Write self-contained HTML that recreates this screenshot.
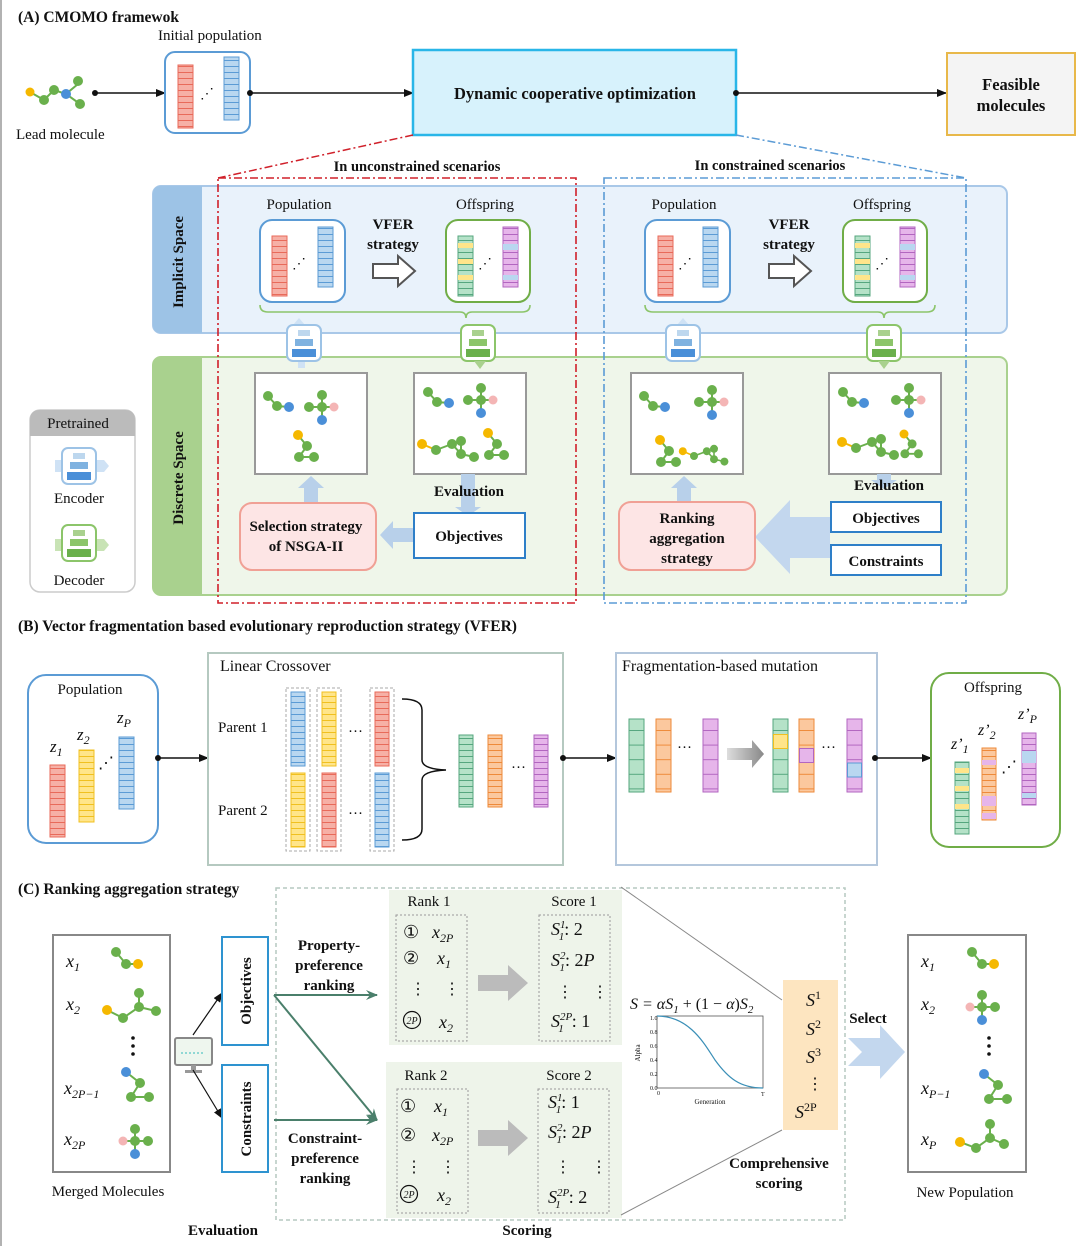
<!DOCTYPE html>
<html><head><meta charset="utf-8"><style>
html,body{margin:0;padding:0;background:#fff}
svg{display:block}
text{font-family:"Liberation Serif",serif;fill:#111}
.b{font-weight:bold}
.i{font-style:italic}
</style></head><body>
<svg width="1080" height="1246" viewBox="0 0 1080 1246" xmlns="http://www.w3.org/2000/svg">
<defs>
<marker id="ah" markerWidth="10" markerHeight="8" refX="9" refY="4" orient="auto" markerUnits="userSpaceOnUse"><path d="M0,0 L10,4 L0,8 Z" fill="#111"/></marker>
<marker id="ahg" markerWidth="12" markerHeight="10" refX="11" refY="5" orient="auto" markerUnits="userSpaceOnUse"><path d="M0,0 L12,5 L0,10 L4,5 Z" fill="#4a7f6b"/></marker>
<pattern id="pR" width="20" height="6" patternUnits="userSpaceOnUse"><rect width="20" height="6" fill="#f6b0a6"/><line x1="0" y1="0.5" x2="20" y2="0.5" stroke="#e86a5a"/></pattern>
<pattern id="pB" width="20" height="6" patternUnits="userSpaceOnUse"><rect width="20" height="6" fill="#b9d7f0"/><line x1="0" y1="0.5" x2="20" y2="0.5" stroke="#5b9bd5"/></pattern>
<pattern id="pY" width="20" height="6" patternUnits="userSpaceOnUse"><rect width="20" height="6" fill="#ffe58a"/><line x1="0" y1="0.5" x2="20" y2="0.5" stroke="#f0c020"/></pattern>
<pattern id="pG" width="20" height="6" patternUnits="userSpaceOnUse"><rect width="20" height="6" fill="#b5e2c8"/><line x1="0" y1="0.5" x2="20" y2="0.5" stroke="#55a67e"/></pattern>
<pattern id="pO" width="20" height="6" patternUnits="userSpaceOnUse"><rect width="20" height="6" fill="#fbc89e"/><line x1="0" y1="0.5" x2="20" y2="0.5" stroke="#ee8a3a"/></pattern>
<pattern id="pP" width="20" height="6" patternUnits="userSpaceOnUse"><rect width="20" height="6" fill="#e6b5ea"/><line x1="0" y1="0.5" x2="20" y2="0.5" stroke="#b266c0"/></pattern>
<pattern id="qG" width="20" height="14.6" patternUnits="userSpaceOnUse"><rect width="20" height="15" fill="#b5e2c8"/><line x1="0" y1="0.5" x2="20" y2="0.5" stroke="#55a67e"/></pattern>
<pattern id="qO" width="20" height="14.6" patternUnits="userSpaceOnUse"><rect width="20" height="15" fill="#fbc89e"/><line x1="0" y1="0.5" x2="20" y2="0.5" stroke="#ee8a3a"/></pattern>
<pattern id="qP" width="20" height="14.6" patternUnits="userSpaceOnUse"><rect width="20" height="15" fill="#e6b5ea"/><line x1="0" y1="0.5" x2="20" y2="0.5" stroke="#b266c0"/></pattern>
<g id="m1"><path d="M0,0 L9,10 L21,11" stroke="#6ab04c" stroke-width="2" fill="none"/><circle cx="0" cy="0" r="5" fill="#6ab04c"/><circle cx="9" cy="10" r="5" fill="#6ab04c"/><circle cx="21" cy="11" r="5" fill="#4a8fd8"/></g>
<g id="m2"><path d="M-13,0 L11,0 M0,-12 L0,13" stroke="#6ab04c" stroke-width="2"/><circle cx="-13" cy="0" r="5" fill="#6ab04c"/><circle cx="0" cy="0" r="5" fill="#6ab04c"/><circle cx="0" cy="-12" r="5" fill="#6ab04c"/><circle cx="12" cy="0" r="4.5" fill="#f4b5b5"/><circle cx="0" cy="13" r="5" fill="#4a8fd8"/></g>
<g id="m3"><path d="M0,0 L9,11 L1,22 L16,22" stroke="#6ab04c" stroke-width="2" fill="none"/><circle cx="0" cy="0" r="5" fill="#f5b800"/><circle cx="9" cy="11" r="5" fill="#6ab04c"/><circle cx="1" cy="22" r="5" fill="#6ab04c"/><circle cx="16" cy="22" r="5" fill="#6ab04c"/></g>
<g id="m4"><path d="M0,0 L16,-6 L25,4 L38,7 M25,4 L25,-9" stroke="#6ab04c" stroke-width="2" fill="none"/><circle cx="-14" cy="-6" r="5" fill="#f5b800"/><path d="M-14,-6 L0,0" stroke="#f5b800" stroke-width="2"/><circle cx="0" cy="0" r="5" fill="#6ab04c"/><circle cx="16" cy="-6" r="5" fill="#6ab04c"/><circle cx="25" cy="4" r="5" fill="#6ab04c"/><circle cx="38" cy="7" r="5" fill="#6ab04c"/><circle cx="25" cy="-9" r="5" fill="#6ab04c"/></g>
<g id="enc"><rect x="0" y="0" width="34" height="36" rx="6" fill="#fff" stroke="#9dc3e6" stroke-width="2"/><rect x="11" y="5" width="12" height="6" fill="#bdd7ee"/><rect x="8" y="14" width="18" height="7" fill="#7fb2e0"/><rect x="5" y="24" width="24" height="8" fill="#4a8fd8"/></g>
<g id="dec"><rect x="0" y="0" width="34" height="36" rx="6" fill="#fff" stroke="#8cc56a" stroke-width="2"/><rect x="11" y="5" width="12" height="6" fill="#a9d18e"/><rect x="8" y="14" width="18" height="7" fill="#8cc56a"/><rect x="5" y="24" width="24" height="8" fill="#6ab04c"/></g>
</defs>

<line x1="1" y1="0" x2="1" y2="1246" stroke="#999" stroke-width="1.5"/>

<!-- ===== A ===== -->
<text x="18" y="22" font-size="15.5" class="b">(A)  CMOMO framewok</text>
<text x="158" y="40" font-size="15">Initial population</text>
<g transform="translate(30,78)">
<path d="M0,14 L14,22 L24,12 L36,16 L48,6 L36,16 L50,26" stroke="#6ab04c" stroke-width="2" fill="none"/>
<circle cx="0" cy="14" r="4.5" fill="#f5b800"/><circle cx="14" cy="22" r="5" fill="#6ab04c"/><circle cx="24" cy="12" r="5" fill="#6ab04c"/><circle cx="36" cy="16" r="5" fill="#4a8fd8"/><circle cx="48" cy="3" r="5" fill="#6ab04c"/><circle cx="50" cy="26" r="5" fill="#6ab04c"/>
</g>
<text x="16" y="139" font-size="15">Lead molecule</text>
<circle cx="95" cy="93" r="3" fill="#111"/>
<line x1="95" y1="93" x2="165" y2="93" stroke="#111" stroke-width="1.6" marker-end="url(#ah)"/>
<rect x="165" y="52" width="85" height="81" rx="10" fill="#fff" stroke="#5b9bd5" stroke-width="2"/>
<rect x="178" y="65" width="15" height="63" fill="url(#pR)" stroke="#e86a5a"/>
<rect x="224" y="57" width="15" height="63" fill="url(#pB)" stroke="#5b9bd5"/>
<text x="200" y="98" font-size="14" fill="#4a8fd8">⋰</text>
<circle cx="250" cy="93" r="3" fill="#111"/>
<line x1="250" y1="93" x2="413" y2="93" stroke="#111" stroke-width="1.6" marker-end="url(#ah)"/>
<rect x="413" y="50" width="323" height="85" fill="#d7f2fc" stroke="#29b6e8" stroke-width="2.5"/>
<text x="575" y="99" font-size="16.5" class="b" text-anchor="middle">Dynamic cooperative optimization</text>
<circle cx="736" cy="93" r="3" fill="#111"/>
<line x1="736" y1="93" x2="946" y2="93" stroke="#111" stroke-width="1.6" marker-end="url(#ah)"/>
<rect x="947" y="53" width="128" height="82" fill="#f4f4f4" stroke="#e8b84a" stroke-width="2"/>
<text x="1011" y="90" font-size="16.5" class="b" text-anchor="middle">Feasible</text>
<text x="1011" y="111" font-size="16.5" class="b" text-anchor="middle">molecules</text>

<line x1="413" y1="135" x2="218" y2="178" stroke="#d0202a" stroke-width="1.5" stroke-dasharray="8,3,2,3"/>
<line x1="736" y1="135" x2="966" y2="178" stroke="#5b9bd5" stroke-width="1.5" stroke-dasharray="8,3,2,3"/>
<text x="417" y="171" font-size="14.5" class="b" text-anchor="middle">In unconstrained scenarios</text>
<text x="770" y="170" font-size="14.5" class="b" text-anchor="middle">In constrained scenarios</text>

<!-- panels -->
<rect x="153" y="186" width="854" height="147" rx="8" fill="#e9f2fb" stroke="#a9c8e8" stroke-width="2"/>
<path d="M161,186 H202 V333 H161 Q153,333 153,325 V194 Q153,186 161,186 Z" fill="#9dc3e6"/>
<text transform="translate(183,262) rotate(-90)" font-size="15" class="b" text-anchor="middle">Implicit  Space</text>
<rect x="153" y="357" width="854" height="238" rx="8" fill="#eff6ea" stroke="#a9d18e" stroke-width="2"/>
<path d="M161,357 H202 V595 H161 Q153,595 153,587 V365 Q153,357 161,357 Z" fill="#a9d18e"/>
<text transform="translate(183,478) rotate(-90)" font-size="15" class="b" text-anchor="middle">Discrete Space</text>

<!-- pretrained -->
<rect x="30" y="410" width="105" height="182" rx="10" fill="#fff" stroke="#ccc" stroke-width="1.5"/>
<path d="M40,410 H125 Q135,410 135,420 V436 H30 V420 Q30,410 40,410 Z" fill="#bbb"/>
<text x="78" y="428" font-size="15" text-anchor="middle">Pretrained</text>
<path d="M55,460 H104 L109,466 L104,472 H55 Z" fill="#cfe2f5"/>
<use href="#enc" transform="translate(62,448) scale(1)"/>
<text x="79" y="503" font-size="15" text-anchor="middle">Encoder</text>
<path d="M55,539 H104 L109,545 L104,551 H55 Z" fill="#c8e3b5"/>
<use href="#dec" transform="translate(62,525)"/>
<text x="79" y="585" font-size="15" text-anchor="middle">Decoder</text>

<!-- dashed scenario rects -->
<rect x="218" y="178" width="358" height="425" fill="none" stroke="#d0202a" stroke-width="1.6" stroke-dasharray="8,3,2,3"/>
<rect x="604" y="178" width="362" height="425" fill="none" stroke="#5b9bd5" stroke-width="1.6" stroke-dasharray="8,3,2,3"/>

<!-- Left implicit -->
<text x="299" y="209" font-size="15" text-anchor="middle">Population</text>
<rect x="260" y="220" width="85" height="82" rx="12" fill="#fff" stroke="#5b9bd5" stroke-width="2"/>
<rect x="272" y="236" width="15" height="60" fill="url(#pR)" stroke="#e86a5a"/>
<rect x="318" y="227" width="15" height="60" fill="url(#pB)" stroke="#5b9bd5"/>
<text x="292" y="268" font-size="14" fill="#4a8fd8">⋰</text>
<text x="393" y="229" font-size="15" class="b" text-anchor="middle">VFER</text>
<text x="393" y="249" font-size="15" class="b" text-anchor="middle">strategy</text>
<path d="M373,264 H398 V256 L415,271 L398,286 V278 H373 Z" fill="#fff" stroke="#555" stroke-width="2"/>
<text x="485" y="209" font-size="15" text-anchor="middle">Offspring</text>
<rect x="446" y="220" width="84" height="82" rx="12" fill="#fff" stroke="#70ad47" stroke-width="2"/>
<rect x="458" y="236" width="15" height="60" fill="url(#pG)" stroke="#55a67e"/>
<rect x="458" y="243" width="15" height="5" fill="#ffe58a"/><rect x="458" y="259" width="15" height="5" fill="#ffe58a"/><rect x="458" y="275" width="15" height="5" fill="#ffe58a"/>
<rect x="503" y="227" width="15" height="60" fill="url(#pP)" stroke="#b266c0"/>
<rect x="503" y="244" width="15" height="6" fill="#b9d7f0"/><rect x="503" y="275" width="15" height="5" fill="#b9d7f0"/>
<text x="478" y="268" font-size="14" fill="#6ab04c">⋰</text>
<path d="M260,305 Q260,312 268,312 H460 Q466,312 466,318 Q466,312 472,312 H522 Q530,312 530,305" fill="none" stroke="#8cc56a" stroke-width="1.6"/>
<path d="M299,318 L305,325 H293 Z" fill="#cfe2f5"/><rect x="298" y="360" width="7" height="8" fill="#cfe2f5"/>
<use href="#enc" transform="translate(287,325)"/>
<use href="#dec" transform="translate(461,325)"/>
<path d="M474,361 H486 L480,369 Z" fill="#a9d18e"/>
<rect x="255" y="373" width="112" height="101" fill="#fff" stroke="#999" stroke-width="2"/>
<use href="#m1" transform="translate(268,396)"/>
<use href="#m2" transform="translate(322,407)"/>
<use href="#m3" transform="translate(298,435)"/>
<rect x="414" y="373" width="112" height="101" fill="#fff" stroke="#999" stroke-width="2"/>
<use href="#m1" transform="translate(428,392)"/>
<use href="#m2" transform="translate(481,400)"/>
<use href="#m4" transform="translate(436,450)"/>
<use href="#m3" transform="translate(488,433)"/>
<path d="M461,474 H475 V507 H481 L468,516 L455,507 H461 Z" fill="#b8d0ea"/>
<text x="469" y="496" font-size="15" class="b" text-anchor="middle">Evaluation</text>
<rect x="414" y="513" width="111" height="45" fill="#fff" stroke="#2e7fc8" stroke-width="2"/>
<text x="469" y="541" font-size="15" class="b" text-anchor="middle">Objectives</text>
<path d="M413,528 H393 V521 L380,535 L393,549 V542 H413 Z" fill="#b8d0ea"/>
<path d="M304,503 V488 H298 L311,476 L324,488 H318 V503 Z" fill="#b8d0ea"/>
<rect x="240" y="503" width="136" height="67" rx="12" fill="#fde5e5" stroke="#f0a095" stroke-width="2"/>
<text x="306" y="531" font-size="15" class="b" text-anchor="middle">Selection strategy</text>
<text x="306" y="551" font-size="15" class="b" text-anchor="middle">of NSGA-II</text>

<!-- Right implicit -->
<text x="684" y="209" font-size="15" text-anchor="middle">Population</text>
<rect x="645" y="220" width="85" height="82" rx="12" fill="#fff" stroke="#5b9bd5" stroke-width="2"/>
<rect x="658" y="236" width="15" height="60" fill="url(#pR)" stroke="#e86a5a"/>
<rect x="703" y="227" width="15" height="60" fill="url(#pB)" stroke="#5b9bd5"/>
<text x="678" y="268" font-size="14" fill="#4a8fd8">⋰</text>
<text x="789" y="229" font-size="15" class="b" text-anchor="middle">VFER</text>
<text x="789" y="249" font-size="15" class="b" text-anchor="middle">strategy</text>
<path d="M769,264 H794 V256 L811,271 L794,286 V278 H769 Z" fill="#fff" stroke="#555" stroke-width="2"/>
<text x="882" y="209" font-size="15" text-anchor="middle">Offspring</text>
<rect x="843" y="220" width="84" height="82" rx="12" fill="#fff" stroke="#70ad47" stroke-width="2"/>
<rect x="855" y="236" width="15" height="60" fill="url(#pG)" stroke="#55a67e"/>
<rect x="855" y="243" width="15" height="5" fill="#ffe58a"/><rect x="855" y="259" width="15" height="5" fill="#ffe58a"/><rect x="855" y="275" width="15" height="5" fill="#ffe58a"/>
<rect x="900" y="227" width="15" height="60" fill="url(#pP)" stroke="#b266c0"/>
<rect x="900" y="244" width="15" height="6" fill="#b9d7f0"/><rect x="900" y="275" width="15" height="5" fill="#b9d7f0"/>
<text x="875" y="268" font-size="14" fill="#6ab04c">⋰</text>
<path d="M645,305 Q645,312 653,312 H878 Q884,312 884,318 Q884,312 890,312 H927 Q935,312 935,305" fill="none" stroke="#8cc56a" stroke-width="1.6"/>
<path d="M683,318 L689,325 H677 Z" fill="#cfe2f5"/>
<use href="#enc" transform="translate(666,325)"/>
<use href="#dec" transform="translate(867,325)"/>
<path d="M878,361 H890 L884,369 Z" fill="#a9d18e"/>
<rect x="631" y="373" width="112" height="101" fill="#fff" stroke="#999" stroke-width="2"/>
<use href="#m1" transform="translate(644,396)"/>
<use href="#m2" transform="translate(712,402)"/>
<use href="#m3" transform="translate(660,440)"/>
<use href="#m4" transform="translate(694,456) scale(0.8)"/>
<rect x="829" y="373" width="112" height="101" fill="#fff" stroke="#999" stroke-width="2"/>
<use href="#m1" transform="translate(843,392)"/>
<use href="#m2" transform="translate(909,400)"/>
<use href="#m4" transform="translate(856,448)"/>
<use href="#m3" transform="translate(904,434) scale(0.9)"/>
<path d="M877,474 H891 V480 H897 L884,489 L871,480 H877 Z" fill="#b8d0ea"/>
<text x="889" y="490" font-size="15" class="b" text-anchor="middle">Evaluation</text>
<rect x="831" y="502" width="110" height="30" fill="#fff" stroke="#2e7fc8" stroke-width="2"/>
<text x="886" y="523" font-size="15" class="b" text-anchor="middle">Objectives</text>
<rect x="831" y="545" width="110" height="30" fill="#fff" stroke="#2e7fc8" stroke-width="2"/>
<text x="886" y="566" font-size="15" class="b" text-anchor="middle">Constraints</text>
<path d="M830,517 V558 H790 V574 L755,537 L790,500 V517 Z" fill="#c3d7ee"/>
<path d="M677,503 V488 H671 L684,476 L697,488 H691 V503 Z" fill="#b8d0ea"/>
<rect x="619" y="502" width="136" height="68" rx="12" fill="#fde5e5" stroke="#f0a095" stroke-width="2"/>
<text x="687" y="523" font-size="15" class="b" text-anchor="middle">Ranking</text>
<text x="687" y="543" font-size="15" class="b" text-anchor="middle">aggregation</text>
<text x="687" y="563" font-size="15" class="b" text-anchor="middle">strategy</text>

<!-- ===== B ===== -->
<text x="18" y="631" font-size="15.5" class="b">(B)  Vector fragmentation based evolutionary reproduction strategy (VFER)</text>
<rect x="28" y="675" width="130" height="168" rx="18" fill="#fff" stroke="#5b9bd5" stroke-width="2"/>
<text x="90" y="694" font-size="15" text-anchor="middle">Population</text>
<text x="50" y="752" font-size="17" class="i">z<tspan font-size="12" dy="4">1</tspan></text>
<text x="77" y="740" font-size="17" class="i">z<tspan font-size="12" dy="4">2</tspan></text>
<text x="117" y="723" font-size="17" class="i">z<tspan font-size="12" dy="4">P</tspan></text>
<rect x="50" y="765" width="15" height="72" fill="url(#pR)" stroke="#e86a5a"/>
<rect x="79" y="750" width="15" height="72" fill="url(#pY)" stroke="#f0c020"/>
<rect x="119" y="737" width="15" height="72" fill="url(#pB)" stroke="#5b9bd5"/>
<text x="98" y="768" font-size="16">⋰</text>
<circle cx="158" cy="758" r="3" fill="#111"/>
<line x1="158" y1="758" x2="208" y2="758" stroke="#111" stroke-width="1.6" marker-end="url(#ah)"/>

<rect x="208" y="653" width="355" height="212" fill="#fff" stroke="#b5c9c0" stroke-width="2"/>
<text x="220" y="671" font-size="16">Linear Crossover</text>
<text x="218" y="732" font-size="15">Parent 1</text>
<text x="218" y="815" font-size="15">Parent 2</text>
<rect x="286" y="688" width="24" height="163" fill="none" stroke="#aaa" stroke-dasharray="3,2"/>
<rect x="317" y="688" width="24" height="163" fill="none" stroke="#aaa" stroke-dasharray="3,2"/>
<rect x="370" y="688" width="24" height="163" fill="none" stroke="#aaa" stroke-dasharray="3,2"/>
<rect x="291" y="692" width="14" height="74" fill="url(#pB)" stroke="#5b9bd5"/>
<rect x="322" y="692" width="14" height="74" fill="url(#pY)" stroke="#f0c020"/>
<rect x="375" y="692" width="14" height="74" fill="url(#pR)" stroke="#e86a5a"/>
<rect x="291" y="773" width="14" height="74" fill="url(#pY)" stroke="#f0c020"/>
<rect x="322" y="773" width="14" height="74" fill="url(#pR)" stroke="#e86a5a"/>
<rect x="375" y="773" width="14" height="74" fill="url(#pB)" stroke="#5b9bd5"/>
<text x="348" y="736" font-size="15">···</text>
<text x="348" y="818" font-size="15">···</text>
<path d="M402,699 Q422,699 422,710 V760 Q422,769 446,770 Q422,771 422,780 V829 Q422,840 402,840" fill="none" stroke="#111" stroke-width="1.5"/>
<rect x="459" y="735" width="14" height="72" fill="url(#pG)" stroke="#55a67e"/>
<rect x="488" y="735" width="14" height="72" fill="url(#pO)" stroke="#ee8a3a"/>
<rect x="534" y="735" width="14" height="72" fill="url(#pP)" stroke="#b266c0"/>
<text x="511" y="772" font-size="15">···</text>
<circle cx="563" cy="758" r="3" fill="#111"/>
<line x1="563" y1="758" x2="616" y2="758" stroke="#111" stroke-width="1.6" marker-end="url(#ah)"/>

<rect x="616" y="653" width="261" height="212" fill="#fff" stroke="#b4c7dc" stroke-width="2"/>
<text x="622" y="671" font-size="16">Fragmentation-based mutation</text>
<rect x="629" y="719" width="15" height="73" fill="url(#qG)" stroke="#55a67e"/>
<rect x="656" y="719" width="15" height="73" fill="url(#qO)" stroke="#ee8a3a"/>
<rect x="703" y="719" width="15" height="73" fill="url(#qP)" stroke="#b266c0"/>
<text x="677" y="752" font-size="15">···</text>
<defs><linearGradient id="gg" x1="0" x2="1"><stop offset="0" stop-color="#ddd"/><stop offset="1" stop-color="#888"/></linearGradient></defs>
<path d="M727,748 H752 V740 L764,754 L752,768 V760 H727 Z" fill="url(#gg)"/>
<rect x="773" y="719" width="15" height="73" fill="url(#qG)" stroke="#55a67e"/>
<rect x="773.5" y="734.5" width="14" height="14" fill="#ffe58a" stroke="#f0c020"/>
<rect x="799" y="719" width="15" height="73" fill="url(#qO)" stroke="#ee8a3a"/>
<rect x="799.5" y="748.5" width="14" height="14" fill="#e6b5ea" stroke="#b266c0"/>
<rect x="847" y="719" width="15" height="73" fill="url(#qP)" stroke="#b266c0"/>
<rect x="847.5" y="763" width="14" height="14" fill="#b9d7f0" stroke="#5b9bd5"/>
<text x="821" y="752" font-size="15">···</text>
<circle cx="875" cy="758" r="3" fill="#111"/>
<line x1="875" y1="758" x2="931" y2="758" stroke="#111" stroke-width="1.6" marker-end="url(#ah)"/>

<rect x="931" y="673" width="129" height="174" rx="18" fill="#fff" stroke="#70ad47" stroke-width="2"/>
<text x="993" y="692" font-size="15" text-anchor="middle">Offspring</text>
<text x="951" y="749" font-size="16" class="i">z’<tspan font-size="12" dy="4">1</tspan></text>
<text x="978" y="735" font-size="16" class="i">z’<tspan font-size="12" dy="4">2</tspan></text>
<text x="1018" y="719" font-size="16" class="i">z’<tspan font-size="12" dy="4">P</tspan></text>
<rect x="955" y="762" width="14" height="72" fill="url(#pG)" stroke="#55a67e"/>
<rect x="955" y="768" width="14" height="5" fill="#ffe58a"/><rect x="955" y="786" width="14" height="5" fill="#ffe58a"/><rect x="955" y="804" width="14" height="5" fill="#ffe58a"/>
<rect x="982" y="748" width="14" height="72" fill="url(#pO)" stroke="#ee8a3a"/>
<rect x="982" y="760" width="14" height="5" fill="#e6b5ea"/><rect x="982" y="796" width="14" height="10" fill="#e6b5ea"/><rect x="982" y="813" width="14" height="6" fill="#e6b5ea"/>
<rect x="1022" y="733" width="14" height="72" fill="url(#pP)" stroke="#b266c0"/>
<rect x="1022" y="751" width="14" height="12" fill="#b9d7f0"/><rect x="1022" y="793" width="14" height="5" fill="#b9d7f0"/>
<text x="1001" y="772" font-size="16">⋰</text>

<!-- ===== C ===== -->
<text x="18" y="894" font-size="15.5" class="b">(C)  Ranking aggregation strategy</text>
<rect x="53" y="935" width="117" height="237" fill="#fff" stroke="#888" stroke-width="2"/>
<text x="66" y="967" font-size="18" class="i">x<tspan font-size="12" dy="4">1</tspan></text>
<text x="66" y="1010" font-size="18" class="i">x<tspan font-size="12" dy="4">2</tspan></text>
<text x="64" y="1094" font-size="18" class="i">x<tspan font-size="12" dy="4">2P−1</tspan></text>
<text x="64" y="1145" font-size="18" class="i">x<tspan font-size="12" dy="4">2P</tspan></text>
<circle cx="133" cy="1038" r="1.8" fill="#111"/><circle cx="133" cy="1046" r="1.8" fill="#111"/><circle cx="133" cy="1054" r="1.8" fill="#111"/>
<g transform="translate(116,952)"><path d="M0,0 L10,12 L22,12" stroke="#6ab04c" stroke-width="2" fill="none"/><circle cx="0" cy="0" r="5" fill="#6ab04c"/><circle cx="10" cy="12" r="5" fill="#6ab04c"/><circle cx="22" cy="12" r="5" fill="#f5b800"/></g>
<g transform="translate(107,1010)"><path d="M0,0 L16,8 L32,-3 L32,-17 M32,-3 L49,1" stroke="#6ab04c" stroke-width="2" fill="none"/><circle cx="0" cy="0" r="5" fill="#f5b800"/><circle cx="16" cy="8" r="5" fill="#6ab04c"/><circle cx="32" cy="-3" r="5" fill="#6ab04c"/><circle cx="32" cy="-17" r="5" fill="#6ab04c"/><circle cx="49" cy="1" r="5" fill="#6ab04c"/></g>
<g transform="translate(126,1072)"><path d="M0,0 L14,11 L5,25 L23,25" stroke="#6ab04c" stroke-width="2" fill="none"/><circle cx="0" cy="0" r="5" fill="#4a8fd8"/><circle cx="14" cy="11" r="5" fill="#6ab04c"/><circle cx="5" cy="25" r="5" fill="#6ab04c"/><circle cx="23" cy="25" r="5" fill="#6ab04c"/></g>
<use href="#m2" transform="translate(135,1141) scale(-1,1)"/>

<!-- monitor -->
<rect x="175" y="1038" width="37" height="27" rx="2" fill="#eef6ee" stroke="#888" stroke-width="2"/>
<line x1="181" y1="1053" x2="205" y2="1053" stroke="#3bb" stroke-dasharray="2,2"/>
<rect x="191" y="1065" width="5" height="5" fill="#999"/><rect x="185" y="1070" width="17" height="3" fill="#999"/>
<line x1="193" y1="1035" x2="222" y2="993" stroke="#111" stroke-width="1.2" marker-end="url(#ah)"/>
<line x1="193" y1="1070" x2="222" y2="1118" stroke="#111" stroke-width="1.2" marker-end="url(#ah)"/>
<rect x="222" y="937" width="46" height="108" fill="#fff" stroke="#2e93d0" stroke-width="2"/>
<text transform="translate(251,991) rotate(-90)" font-size="15" class="b" text-anchor="middle">Objectives</text>
<rect x="222" y="1065" width="46" height="107" fill="#fff" stroke="#2e93d0" stroke-width="2"/>
<text transform="translate(251,1119) rotate(-90)" font-size="15" class="b" text-anchor="middle">Constraints</text>
<text x="223" y="1235" font-size="15" class="b" text-anchor="middle">Evaluation</text>

<!-- scoring -->
<rect x="276" y="888" width="569" height="332" fill="none" stroke="#b5c9c0" stroke-width="1.5" stroke-dasharray="4,3"/>
<text x="527" y="1235" font-size="15" class="b" text-anchor="middle">Scoring</text>
<text x="329" y="950" font-size="15" class="b" text-anchor="middle">Property-</text>
<text x="329" y="970" font-size="15" class="b" text-anchor="middle">preference</text>
<text x="329" y="990" font-size="15" class="b" text-anchor="middle">ranking</text>
<text x="325" y="1143" font-size="15" class="b" text-anchor="middle">Constraint-</text>
<text x="325" y="1163" font-size="15" class="b" text-anchor="middle">preference</text>
<text x="325" y="1183" font-size="15" class="b" text-anchor="middle">ranking</text>
<line x1="274" y1="995" x2="377" y2="995" stroke="#4a7f6b" stroke-width="2" marker-end="url(#ahg)"/>
<line x1="274" y1="995" x2="377" y2="1120" stroke="#4a7f6b" stroke-width="2" marker-end="url(#ahg)"/>
<line x1="274" y1="1120" x2="377" y2="1120" stroke="#4a7f6b" stroke-width="2" marker-end="url(#ahg)"/>

<rect x="389" y="890" width="233" height="155" fill="#eef4ea"/>
<rect x="386" y="1062" width="236" height="156" fill="#eef4ea"/>
<text x="429" y="906" font-size="15" text-anchor="middle">Rank 1</text>
<text x="574" y="906" font-size="15" text-anchor="middle">Score 1</text>
<rect x="396" y="915" width="71" height="126" fill="none" stroke="#999" stroke-dasharray="2,2"/>
<rect x="539" y="915" width="71" height="126" fill="none" stroke="#999" stroke-dasharray="2,2"/>
<text x="403" y="938" font-size="18">①</text><text x="432" y="938" font-size="18" class="i">x<tspan font-size="12" dy="4">2P</tspan></text>
<text x="403" y="964" font-size="18">②</text><text x="437" y="964" font-size="18" class="i">x<tspan font-size="12" dy="4">1</tspan></text>
<text x="410" y="994" font-size="16">⋮</text><text x="444" y="994" font-size="16">⋮</text>
<circle cx="412" cy="1020" r="8.5" fill="none" stroke="#111" stroke-width="1.2"/><text x="412" y="1024" font-size="10" class="i" text-anchor="middle">2P</text>
<text x="439" y="1028" font-size="18" class="i">x<tspan font-size="12" dy="4">2</tspan></text>
<text x="551" y="935" font-size="18" class="i">S<tspan font-size="11" dy="-7">1</tspan><tspan font-size="11" dx="-6" dy="12">1</tspan><tspan font-size="18" dy="-5" font-style="normal">: 2</tspan></text>
<text x="551" y="966" font-size="18" class="i">S<tspan font-size="11" dy="-7">2</tspan><tspan font-size="11" dx="-6" dy="12">1</tspan><tspan font-size="18" dy="-5" font-style="normal">: 2</tspan><tspan font-size="18">P</tspan></text>
<text x="557" y="997" font-size="16">⋮</text><text x="592" y="997" font-size="16">⋮</text>
<text x="551" y="1027" font-size="18" class="i">S<tspan font-size="11" dy="-7">2P</tspan><tspan font-size="11" dx="-14" dy="12">1</tspan><tspan font-size="18" dy="-5" font-style="normal" dx="8">: 1</tspan></text>
<path d="M478,975 H508 V965 L528,983 L508,1001 V991 H478 Z" fill="#bbb"/>

<text x="426" y="1080" font-size="15" text-anchor="middle">Rank 2</text>
<text x="569" y="1080" font-size="15" text-anchor="middle">Score 2</text>
<rect x="397" y="1089" width="71" height="124" fill="none" stroke="#999" stroke-dasharray="2,2"/>
<rect x="538" y="1089" width="71" height="124" fill="none" stroke="#999" stroke-dasharray="2,2"/>
<text x="400" y="1112" font-size="18">①</text><text x="434" y="1112" font-size="18" class="i">x<tspan font-size="12" dy="4">1</tspan></text>
<text x="400" y="1141" font-size="18">②</text><text x="432" y="1141" font-size="18" class="i">x<tspan font-size="12" dy="4">2P</tspan></text>
<text x="406" y="1172" font-size="16">⋮</text><text x="440" y="1172" font-size="16">⋮</text>
<circle cx="409" cy="1194" r="8.5" fill="none" stroke="#111" stroke-width="1.2"/><text x="409" y="1198" font-size="10" class="i" text-anchor="middle">2P</text>
<text x="437" y="1201" font-size="18" class="i">x<tspan font-size="12" dy="4">2</tspan></text>
<text x="548" y="1108" font-size="18" class="i">S<tspan font-size="11" dy="-7">1</tspan><tspan font-size="11" dx="-6" dy="12">1</tspan><tspan font-size="18" dy="-5" font-style="normal">: 1</tspan></text>
<text x="548" y="1138" font-size="18" class="i">S<tspan font-size="11" dy="-7">2</tspan><tspan font-size="11" dx="-6" dy="12">1</tspan><tspan font-size="18" dy="-5" font-style="normal">: 2</tspan><tspan font-size="18">P</tspan></text>
<text x="555" y="1172" font-size="16">⋮</text><text x="591" y="1172" font-size="16">⋮</text>
<text x="548" y="1203" font-size="18" class="i">S<tspan font-size="11" dy="-7">2P</tspan><tspan font-size="11" dx="-14" dy="12">1</tspan><tspan font-size="18" dy="-5" font-style="normal" dx="8">: 2</tspan></text>
<path d="M478,1130 H508 V1120 L528,1138 L508,1156 V1146 H478 Z" fill="#bbb"/>

<line x1="621" y1="887" x2="782" y2="1000" stroke="#888" stroke-width="1"/>
<line x1="621" y1="1215" x2="782" y2="1130" stroke="#888" stroke-width="1"/>
<text x="630" y="1009" font-size="16" class="i">S = αS<tspan font-size="11" dy="4">1</tspan><tspan dy="-4" font-style="normal"> + (1 − </tspan>α<tspan font-style="normal">)</tspan>S<tspan font-size="11" dy="4">2</tspan></text>
<rect x="657" y="1016" width="106" height="72" fill="#fff" stroke="#555" stroke-width="0.8"/>
<path d="M657,1016 C690,1016 705,1045 715,1060 C728,1078 740,1088 763,1088" fill="none" stroke="#3a8fb7" stroke-width="1.2"/>
<text x="650" y="1020" font-size="6">1.0</text><text x="650" y="1034" font-size="6">0.8</text><text x="650" y="1048" font-size="6">0.6</text><text x="650" y="1062" font-size="6">0.4</text><text x="650" y="1076" font-size="6">0.2</text><text x="650" y="1090" font-size="6">0.0</text>
<text x="657" y="1095" font-size="6">0</text><text x="761" y="1096" font-size="6">T</text>
<text x="710" y="1104" font-size="7" text-anchor="middle">Generation</text>
<text transform="translate(640,1053) rotate(-90)" font-size="7" text-anchor="middle">Alpha</text>

<rect x="783" y="980" width="55" height="150" fill="#fde5c0"/>
<text x="806" y="1006" font-size="18" class="i">S<tspan font-size="12" dy="-7" font-style="normal">1</tspan></text>
<text x="806" y="1035" font-size="18" class="i">S<tspan font-size="12" dy="-7" font-style="normal">2</tspan></text>
<text x="806" y="1063" font-size="18" class="i">S<tspan font-size="12" dy="-7" font-style="normal">3</tspan></text>
<text x="807" y="1089" font-size="16">⋮</text>
<text x="795" y="1118" font-size="18" class="i">S<tspan font-size="12" dy="-7" font-style="normal">2P</tspan></text>
<text x="779" y="1168" font-size="15" class="b" text-anchor="middle">Comprehensive</text>
<text x="779" y="1188" font-size="15" class="b" text-anchor="middle">scoring</text>
<text x="868" y="1023" font-size="15" class="b" text-anchor="middle">Select</text>
<path d="M848,1038 H880 V1025 L905,1052 L880,1079 V1066 H848 L862,1052 Z" fill="#c3d7ee"/>

<rect x="908" y="935" width="118" height="237" fill="#fff" stroke="#888" stroke-width="2"/>
<text x="921" y="967" font-size="18" class="i">x<tspan font-size="12" dy="4">1</tspan></text>
<text x="921" y="1010" font-size="18" class="i">x<tspan font-size="12" dy="4">2</tspan></text>
<text x="921" y="1094" font-size="18" class="i">x<tspan font-size="12" dy="4">P−1</tspan></text>
<text x="921" y="1145" font-size="18" class="i">x<tspan font-size="12" dy="4">P</tspan></text>
<circle cx="989" cy="1038" r="1.8" fill="#111"/><circle cx="989" cy="1046" r="1.8" fill="#111"/><circle cx="989" cy="1054" r="1.8" fill="#111"/>
<g transform="translate(972,952)"><path d="M0,0 L10,12 L22,12" stroke="#6ab04c" stroke-width="2" fill="none"/><circle cx="0" cy="0" r="5" fill="#6ab04c"/><circle cx="10" cy="12" r="5" fill="#6ab04c"/><circle cx="22" cy="12" r="5" fill="#f5b800"/></g>
<use href="#m2" transform="translate(982,1007) scale(-1,1)"/>
<g transform="translate(984,1074)"><path d="M0,0 L14,11 L5,25 L23,25" stroke="#6ab04c" stroke-width="2" fill="none"/><circle cx="0" cy="0" r="5" fill="#4a8fd8"/><circle cx="14" cy="11" r="5" fill="#6ab04c"/><circle cx="5" cy="25" r="5" fill="#6ab04c"/><circle cx="23" cy="25" r="5" fill="#6ab04c"/></g>
<g transform="translate(960,1142)"><path d="M0,0 L16,6 L30,-4 L30,-18 M30,-4 L44,2" stroke="#6ab04c" stroke-width="2" fill="none"/><circle cx="0" cy="0" r="5" fill="#f5b800"/><circle cx="16" cy="6" r="5" fill="#6ab04c"/><circle cx="30" cy="-4" r="5" fill="#6ab04c"/><circle cx="30" cy="-18" r="5" fill="#6ab04c"/><circle cx="44" cy="2" r="5" fill="#6ab04c"/></g>
<text x="965" y="1197" font-size="15" text-anchor="middle">New Population</text>
<text x="108" y="1196" font-size="15" text-anchor="middle">Merged Molecules</text>
</svg>
</body></html>
